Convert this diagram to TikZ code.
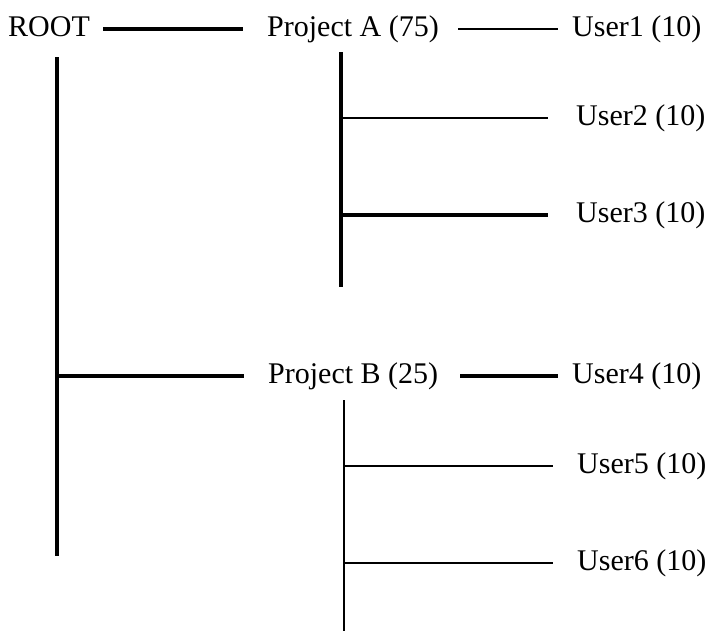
\documentclass[tikz,border=0pt]{standalone}
\usepackage{fontspec}
\setmainfont{Liberation Serif}

\tikzset{
	lbl/.style={anchor=west, inner sep=0pt, text height=20pt, text depth=6pt, font=\fontsize{30}{36}\selectfont},
	heavy/.style={line width=3.5pt},
	light/.style={line width=1.5pt}
}

\begin{document}
\begin{tikzpicture}[x=1pt, y=-1pt]
\useasboundingbox (0,0) rectangle (713,630);

% Textos
\node[lbl] (root)  at (8,29)    {ROOT};
\node[lbl] (projA) at (267,29)  {Project A (75)};
\node[lbl] (user1) at (572,29)  {User1 (10)};
\node[lbl] (user2) at (576,118) {User2 (10)};
\node[lbl] (user3) at (576,215) {User3 (10)};
\node[lbl] (projB) at (268,376) {Project B (25)};
\node[lbl] (user4) at (572,376) {User4 (10)};
\node[lbl] (user5) at (577,466) {User5 (10)};
\node[lbl] (user6) at (577,563) {User6 (10)};

% Troncos
\coordinate (rtop) at (57,57);
\coordinate (rbot) at (57,556);
\coordinate (atop) at (341,52);
\coordinate (abot) at (341,287);
\coordinate (btop) at (344,400);
\coordinate (bbot) at (344,632);

\draw[heavy] (rtop) -- (rbot);
\draw[heavy] (atop) -- (abot);
\draw[light] (btop) -- (bbot);

% Ramas
\draw[heavy, shorten <=13pt, shorten >=24pt] (root) -- (projA);
\draw[heavy, shorten >=24pt] (rtop |- projB) -- (projB);
\draw[light, shorten <=19pt, shorten >=14pt] (projA) -- (user1);
\draw[heavy, shorten <=22pt, shorten >=14pt] (projB) -- (user4);
\draw[light, shorten >=28pt] (atop |- user2) -- (user2);
\draw[heavy, shorten >=28pt] (atop |- user3) -- (user3);
\draw[light, shorten >=24pt] (btop |- user5) -- (user5);
\draw[light, shorten >=24pt] (btop |- user6) -- (user6);
\end{tikzpicture}
\end{document}
